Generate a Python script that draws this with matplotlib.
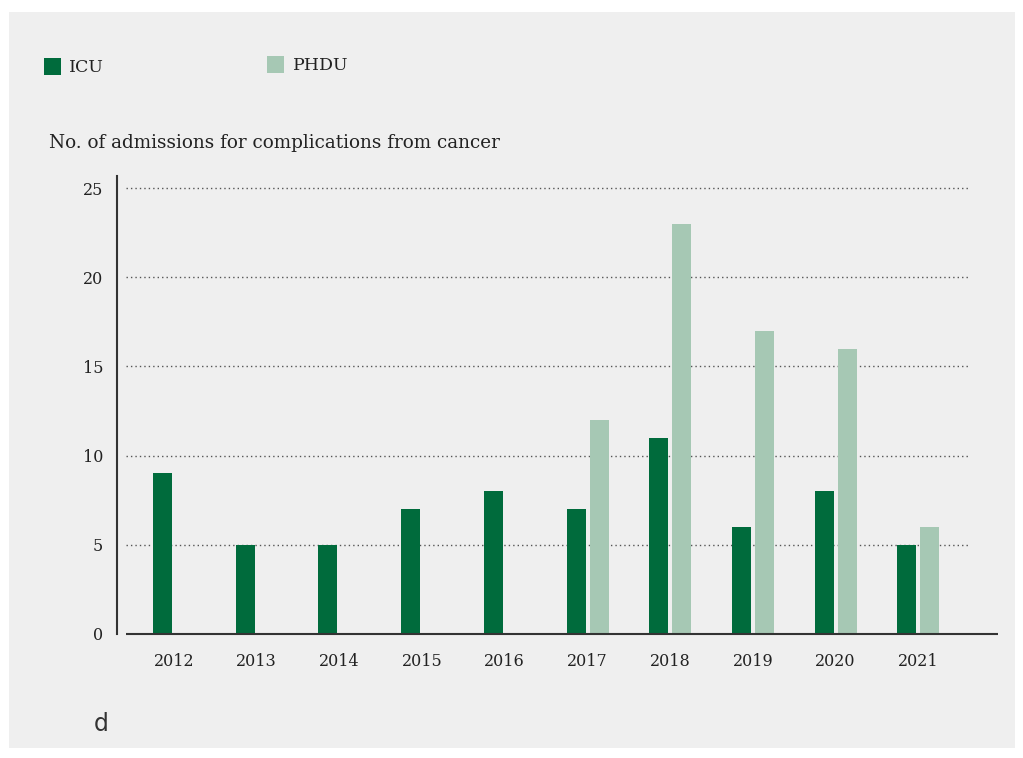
import matplotlib.pyplot as plt
from matplotlib.patches import Rectangle
import numpy as np

years = ['2012', '2013', '2014', '2015', '2016', '2017', '2018', '2019', '2020', '2021']
icu = [9, 5, 5, 7, 8, 7, 11, 6, 8, 5]
phdu = [0, 0, 0, 0, 0, 12, 23, 17, 16, 6]
yticks = [0, 5, 10, 15, 20, 25]

ICU_COLOR = '#006b3c'
PHDU_COLOR = '#a6c8b4'
PANEL = '#efefef'
TEXT = '#222222'

W, H = 1023, 758
plt.rcParams['font.family'] = ['DejaVu Serif']
fig = plt.figure(figsize=(W / 100, H / 100), dpi=100, facecolor='white')


def fx(px):
    return px / W


def fy(py):
    return 1 - py / H


# grey panel behind the chart
fig.patches.append(Rectangle((fx(9), fy(748)), 1006 / W, 736 / H, transform=fig.transFigure,
                             facecolor=PANEL, edgecolor='none', zorder=-10))

ax = fig.add_axes([fx(117), fy(634), fx(998) - fx(117), fy(176) - fy(634)])
ax.set_facecolor('none')
ax.set_zorder(5)

x = np.arange(len(years))
unit = 82.7
bw = 19 / unit
off = 11.5 / unit

ax.set_xlim((117 - 174) / unit, (998 - 174) / unit)
ax.set_ylim(0, 25 + 12 / 17.84)

# dotted gridlines
gx0, gx1 = (126 - 174) / unit, (970 - 174) / unit
ax.hlines(yticks[1:], gx0, gx1, colors='#555555', linestyles=(0, (1, 2.2)), linewidth=1.0, zorder=1)

ax.bar(x - off, icu, width=bw, color=ICU_COLOR, zorder=3)
ax.bar(x + off, phdu, width=bw, color=PHDU_COLOR, zorder=3)

# axes lines
ax.hlines(0, gx0, (998 - 174) / unit, colors='#333333', linewidth=1.5, zorder=4, clip_on=False)
for s in ['top', 'right', 'bottom']:
    ax.spines[s].set_visible(False)
ax.spines['left'].set_color('#333333')
ax.spines['left'].set_linewidth(1.5)

ax.set_yticks(yticks)
ax.set_yticklabels([str(v) for v in yticks], fontsize=11.5, color=TEXT)
ax.set_xticks(x)
ax.set_xticklabels(years, fontsize=11.5, color=TEXT)
ax.tick_params(axis='both', length=0)
ax.tick_params(axis='y', pad=10)
ax.tick_params(axis='x', pad=14)

fig.text(fx(49), fy(143), 'No. of admissions for complications from cancer', fontsize=13.2,
         color=TEXT, ha='left', va='center')

# legend
fig.patches.append(Rectangle((fx(44), fy(75)), 17 / W, 17 / H, transform=fig.transFigure,
                             facecolor=ICU_COLOR, edgecolor='none'))
fig.text(fx(69), fy(68), 'ICU', fontsize=12.5, color=TEXT, ha='left', va='center')
fig.patches.append(Rectangle((fx(267), fy(73)), 17 / W, 17 / H, transform=fig.transFigure,
                             facecolor=PHDU_COLOR, edgecolor='none'))
fig.text(fx(293), fy(66), 'PHDU', fontsize=12.5, color=TEXT, ha='left', va='center')

fig.text(fx(94), fy(724), 'd', fontsize=17, color='#333333', ha='left', va='center', family='DejaVu Sans')

fig.savefig('out.png', dpi=100, facecolor='white')
